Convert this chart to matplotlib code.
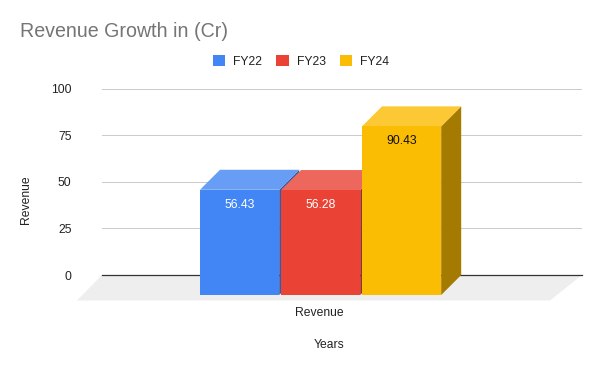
import matplotlib.pyplot as plt

plt.rcParams['font.family'] = ['Liberation Sans', 'DejaVu Sans']

# Chart data
years = ['FY22', 'FY23', 'FY24']
revenue = [56.43, 56.28, 90.43]
y_ticks = [0, 25, 50, 75, 100]

front_colors = ['#4285F4', '#EA4335', '#FBBC04']
top_colors = ['#689DF6', '#EE675D', '#FCC934']
side_colors = ['#2E5DAB', '#A32E25', '#A47A00']
label_colors = ['white', 'white', '#111111']

W, H = 600, 371

fig = plt.figure(figsize=(W / 100, H / 100), dpi=100)
# Axes box set from pixels: y=0 at 275px, y=100 at 88.5px
ax = fig.add_axes([102 / W, 1 - 275 / H, 480 / W, 186.5 / H])
ax.set_xlim(0, 480)
ax.set_ylim(0, 100)

px = 100 / 186.5     # one pixel in value units
depth_x = 20
depth_y = 20 * px
bar_w = 79.2
step = 81
first_x = 98

# Floor
floor_front = 25.5 * px
ax.fill([0, 480, 448, -25], [0, 0, -floor_front, -floor_front],
        color='#EEEEEE', lw=0, clip_on=False, zorder=1)

ax.yaxis.grid(True, color='#CCCCCC', lw=0.75)
ax.set_axisbelow(True)
ax.axhline(0, color='#333333', lw=0.9, zorder=1.5, clip_on=False)

handles = []
for i in range(len(years)):
    x0 = first_x + i * step
    x1 = x0 + bar_w
    top = revenue[i] - depth_y
    bottom = -depth_y

    # Side and top faces, then the front
    ax.fill([x1, x1 + depth_x, x1 + depth_x, x1],
            [bottom, 0, revenue[i], top],
            color=side_colors[i], lw=0, clip_on=False, zorder=2 + i)
    ax.fill([x0, x1, x1 + depth_x, x0 + depth_x],
            [top, top, revenue[i], revenue[i]],
            color=top_colors[i], lw=0, clip_on=False, zorder=2 + i)
    bars = ax.bar(x0, revenue[i], width=bar_w, bottom=bottom, align='edge',
                  color=front_colors[i], lw=0, clip_on=False, zorder=2 + i, label=years[i])
    handles.append(bars)

    ax.text(x0 + bar_w / 2, top - 15 * px, '{:.2f}'.format(revenue[i]), color=label_colors[i],
            fontsize=8.7, ha='center', va='center', zorder=6)

for side in ax.spines.values():
    side.set_visible(False)

ax.set_yticks(y_ticks)
ax.tick_params(axis='y', length=0, pad=22, labelsize=8.7, labelcolor='#222222')
ax.set_xticks([first_x + step + bar_w / 2 - 1])
ax.set_xticklabels(['Revenue'])
ax.tick_params(axis='x', length=0, pad=23, labelsize=8.7, labelcolor='#222222')

fig.text(20 / W, 1 - 31.5 / H, 'Revenue Growth in (Cr)', color='#757575', fontsize=14.15, va='center')
fig.text(329 / W, 1 - 345 / H, 'Years', color='#222222', fontsize=8.7, ha='center', va='center')
fig.text(25.5 / W, 1 - 200 / H, 'Revenue', color='#222222', fontsize=8.7, rotation=90,
         ha='center', va='center')

fig.legend(handles=handles, loc='center', bbox_to_anchor=(301 / W, 1 - 61.5 / H), ncol=3,
           frameon=False, fontsize=8.7, labelcolor='#222222', handlelength=1.0, handleheight=1.0,
           handletextpad=0.66, columnspacing=1.2)

fig.savefig('out.png', dpi=100)
plt.close()
